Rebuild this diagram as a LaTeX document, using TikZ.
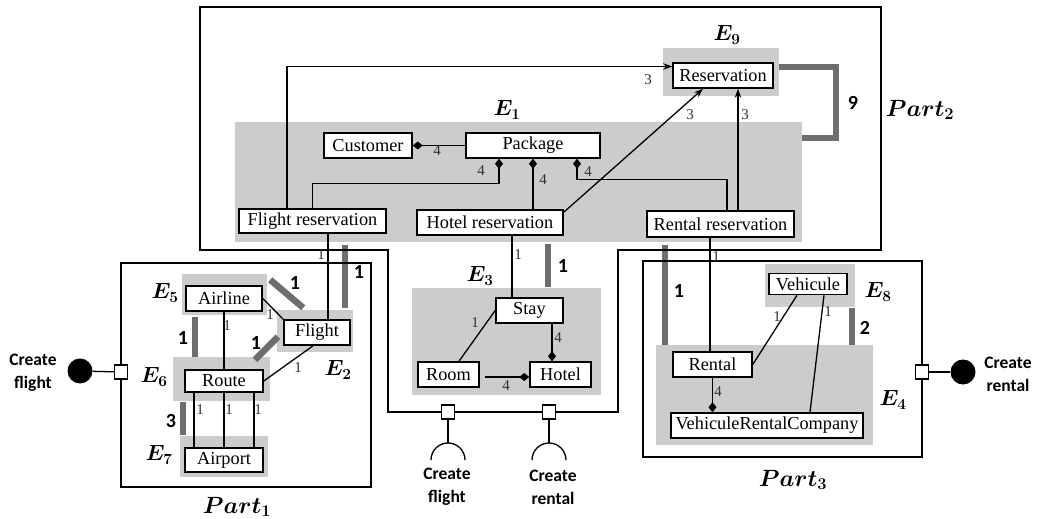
\RequirePackage{fix-cm}
\documentclass[tikz,border=0pt]{standalone}
\usepackage{amsmath}
\usepackage{fontspec}
\setmainfont{Liberation Serif}
\newfontfamily\calib{Carlito}
\usetikzlibrary{arrows.meta}
\definecolor{regiongray}{HTML}{CCCCCC}
\definecolor{bargray}{HTML}{6E6E6E}
\definecolor{labgray}{HTML}{303030}
\tikzset{
  box/.style={draw=black, line width=1.6pt, fill=white, inner sep=0pt, font=\fontsize{18.3}{20}\selectfont},
  region/.style={fill=regiongray, draw=none, inner sep=0pt},
  bar/.style={draw=bargray, line width=6.5pt},
  conn/.style={draw=black, line width=1.3pt},
  arr/.style={conn, -{Stealth[length=9pt,width=6.5pt]}},
  diastart/.style={conn, {Diamond[length=10pt,width=8pt]}-},
  diaend/.style={conn, -{Diamond[length=10pt,width=8pt]}},
  partline/.style={draw=black, line width=1.8pt},
  port/.style={draw=black, fill=white, line width=1.3pt, minimum width=13pt, minimum height=14pt, inner sep=0pt},
  ball/.style={circle, fill=black, minimum size=25pt, inner sep=0pt},
  lab/.style={text=labgray, font=\fontsize{15}{16}\selectfont, inner sep=0pt},
  blab/.style={font=\calib\bfseries\fontsize{20}{22}\selectfont, inner sep=0pt},
  elab/.style={font={\fontsize{22}{25}\selectfont\boldmath}, inner sep=0pt},
  partlab/.style={font={\fontsize{23.5}{27}\selectfont\boldmath}, inner sep=0pt},
  ctext/.style={font=\calib\bfseries\fontsize{17.5}{23}\selectfont, align=center, inner sep=0pt}
}
\begin{document}
\begin{tikzpicture}[x=1pt,y=-1pt]
\useasboundingbox[fill=white] (0,0) rectangle (1037,519);

% ---------- regions ----------
\node[region, minimum width=567pt, minimum height=120pt] (E1) at (518.5,182) {};
\node[region, minimum width=116pt, minimum height=48pt] (E9) at (721,72) {};
\node[region, minimum width=189pt, minimum height=107pt] (E3) at (506.5,341.5) {};
\node[region, minimum width=85pt, minimum height=41pt] (E5) at (224.5,294.5) {};
\node[region, minimum width=76pt, minimum height=42pt] (E2) at (315,331) {};
\node[region, minimum width=97pt, minimum height=44pt] (E6) at (221.5,379) {};
\node[region, minimum width=88pt, minimum height=41pt] (E7) at (224,456.5) {};
\node[region, minimum width=90pt, minimum height=43pt] (E8) at (810,285.5) {};
\node[region, minimum width=217pt, minimum height=100pt] (E4) at (764.5,395) {};

% ---------- thick bars ----------
\draw[bar] ([yshift=5pt]E9.east) -- ++(57,0) |- ([yshift=44pt]E1.east);
\draw[bar] ([xshift=30pt,yshift=2pt]E2.north) -- ++(0,-63);
\draw[bar] ([xshift=3pt,yshift=-6pt]E5.north east) -- ++(33,28);
\draw[bar] ([xshift=-26.5pt]E6.north) -- ++(0,-40);
\draw[bar] ([xshift=33.5pt,yshift=-3pt]E6.north) -- ++(23,-23);
\draw[bar] ([xshift=-41pt,yshift=1pt]E7.north) -- ++(0,-33);
\draw[bar] ([xshift=41.5pt,yshift=1pt]E3.north) -- ++(0,-43);
\draw[bar] ([xshift=-99.5pt]E4.north) -- ++(0,-100);
\draw[bar] ([xshift=87.5pt]E4.north) -- ++(0,-37);

% ---------- part borders ----------
\draw[partline] (200,7) -- (881,7) -- (881,250) -- (618,250) -- (618,412) -- (388,412) -- (388,250) -- (200,250) -- cycle;
\draw[partline] (121,263) rectangle (371,487);
\draw[partline] (643,261) rectangle (922,457);

% ---------- boxes ----------
\node[box, minimum width=100pt, minimum height=25pt] (res) at (723,75.5) {Reservation};
\node[box, minimum width=88pt, minimum height=25pt] (cust) at (368,145.5) {Customer};
\node[box, minimum width=134pt, minimum height=25pt] (pkg) at (533,145.5) {Package};
\node[box, minimum width=147pt, minimum height=24pt] (fres) at (312.5,221) {Flight reservation};
\node[box, minimum width=146pt, minimum height=25pt] (hres) at (490,222.5) {Hotel reservation};
\node[box, minimum width=147pt, minimum height=26pt] (rres) at (720.5,224) {Rental reservation};
\node[box, minimum width=76pt, minimum height=25pt] (airline) at (224,298.5) {Airline};
\node[box, minimum width=66pt, minimum height=25pt] (flight) at (317,332.5) {Flight};
\node[box, minimum width=78pt, minimum height=22pt] (route) at (224,381) {Route};
\node[box, minimum width=78pt, minimum height=24pt] (airport) at (224,460) {Airport};
\node[box, minimum width=67pt, minimum height=25pt] (stay) at (529.5,310.5) {Stay};
\node[box, minimum width=61pt, minimum height=25pt] (room) at (448.5,374.5) {Room};
\node[box, minimum width=61pt, minimum height=25pt] (hotel) at (560.5,374.5) {Hotel};
\node[box, minimum width=78pt, minimum height=21pt] (veh) at (808,284) {Vehicule};
\node[box, minimum width=79pt, minimum height=25pt] (rental) at (712.5,364.5) {Rental};
\node[box, minimum width=192pt, minimum height=25pt] (vrc) at (767,425.5) {VehiculeRentalCompany};

% ---------- ports ----------
\node[port] (pl) at (121,372) {};
\node[ball] (bl) at (80,371) {};
\node[port] (pb1) at (448,412) {};
\node[port] (pb2) at (549,412) {};
\node[port] (pr) at (922,372) {};
\node[ball] (br) at (963,372) {};
\coordinate (s1) at (448,443);
\coordinate (s2) at (549,443);

\draw[conn] (bl) -- (pl);
\draw[conn] (pr) -- (br);
\draw[conn] (pb1.south) -- (s1);
\draw[conn] (pb2.south) -- (s2);
\draw[conn] ([xshift=-17pt,yshift=-17pt]s1) arc[start angle=180,end angle=0,radius=17pt];
\draw[conn] ([xshift=-17pt,yshift=-17pt]s2) arc[start angle=180,end angle=0,radius=17pt];

% ---------- connectors ----------
\draw[diastart] (cust.east) -- (pkg.west);
\draw[diastart] ([xshift=-34pt]pkg.south) -- ++(0,25) -| (fres.north);
\draw[diastart] (pkg.south) -- (pkg.south |- hres.north);
\draw[diastart] ([xshift=44pt]pkg.south) -- ++(0,21) -| ([xshift=6.5pt]rres.north);
\draw[arr] ([xshift=-25.5pt]fres.north) |- ([yshift=9pt]res.west);
\draw[arr] ([yshift=-3pt]hres.north east) -- ([xshift=-20pt]res.south);
\draw[arr] ([xshift=17.5pt]rres.north) -- ([xshift=17.5pt]rres.north |- res.south);
\draw[conn] ([xshift=15.5pt]fres.south) -- ([xshift=15.5pt]fres.south |- flight.north);
\draw[conn] ([xshift=22pt]hres.south) -- ([xshift=22pt]hres.south |- stay.north);
\draw[conn] ([xshift=-10.5pt]rres.south) -- ([xshift=-10.5pt]rres.south |- rental.north);
\draw[conn] (airline.east) -- (flight.north west);
\draw[conn] (airline.south) -- (route.north);
\draw[conn] (route.east) -- ([xshift=-4pt]flight.south);
\draw[conn] ([xshift=-30pt]route.south) -- ([xshift=-30pt]airport.north);
\draw[conn] (route.south) -- (airport.north);
\draw[conn] ([xshift=30pt]route.south) -- ([xshift=30pt]airport.north);
\draw[conn] (stay.west) -- ([xshift=10.5pt]room.north);
\draw[diaend] ([xshift=22.5pt]stay.south) -- ([xshift=22.5pt]stay.south |- hotel.north);
\draw[diaend] ([xshift=5pt,yshift=-2.5pt]room.east) -- ([yshift=-2.5pt]hotel.west);
\draw[conn] ([xshift=-11pt]veh.south) -- (rental.east);
\draw[conn] ([xshift=16pt]veh.south) -- ([xshift=43pt]vrc.north);
\draw[diaend] (rental.south) -- (rental.south |- vrc.north);

% ---------- small labels ----------
\node[lab] at (437,151) {4};
\node[lab] at (481,171) {4};
\node[lab] at (543,180) {4};
\node[lab] at (588,172) {4};
\node[lab] at (648,80) {3};
\node[lab] at (690,115) {3};
\node[lab] at (745,115) {3};
\node[lab] at (321,255) {1};
\node[lab] at (518,255) {1};
\node[lab] at (716,257) {1};
\node[lab] at (270,315) {1};
\node[lab] at (227,326) {1};
\node[lab] at (298,368) {1};
\node[lab] at (200,410) {1};
\node[lab] at (229,410) {1};
\node[lab] at (258,410) {1};
\node[lab] at (475,323) {1};
\node[lab] at (558,338) {4};
\node[lab] at (506,386) {4};
\node[lab] at (777,317) {1};
\node[lab] at (828,312) {1};
\node[lab] at (718,392) {4};

% ---------- bar labels ----------
\node[blab] at (853,103) {9};
\node[blab] at (295,283) {1};
\node[blab] at (183,338) {1};
\node[blab] at (256,343) {1};
\node[blab] at (171,421) {3};
\node[blab] at (359,272) {1};
\node[blab] at (563,266) {1};
\node[blab] at (679,291) {1};
\node[blab] at (865,328) {2};

% ---------- E labels ----------
\node[elab] at (507,110) {$E_1$};
\node[elab] at (727,35) {$E_9$};
\node[elab] at (480,276) {$E_3$};
\node[elab] at (165,293) {$E_5$};
\node[elab] at (154,377) {$E_6$};
\node[elab] at (159,455) {$E_7$};
\node[elab] at (338,370) {$E_2$};
\node[elab] at (878,292) {$E_8$};
\node[elab] at (893,400) {$E_4$};

% ---------- part labels ----------
\node[partlab] at (920,110) {$Part_2$};
\node[partlab] at (237,507) {$Part_1$};
\node[partlab] at (793,480) {$Part_3$};

% ---------- create texts ----------
\node[ctext] at (33,373) {Create\\flight};
\node[ctext] at (447,487) {Create\\flight};
\node[ctext] at (553,487) {Create\\rental};
\node[ctext] at (1008,374) {Create\\rental};
\end{tikzpicture}
\end{document}
